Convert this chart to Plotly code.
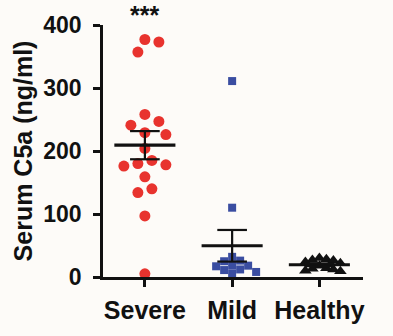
import numpy as np
import plotly.graph_objects as go

# Serum C5a concentrations (ng/ml) per patient group
groups = ["Severe", "Mild", "Healthy"]
severe = [377, 373, 357, 258, 247, 241, 229, 226, 204, 185, 180, 178, 176, 159, 140, 134, 97, 5]
mild = [311, 110, 32, 26, 25, 19, 18, 17, 12, 11, 8, 6]
healthy = [30, 28, 27, 26, 24, 22, 18, 14, 13, 12, 10, 9]
y_ticks = [0, 100, 200, 300, 400]
significance = "***"

# figure geometry
W, H = 393, 336
M = dict(l=103, r=30, t=25, b=49)
X_RANGE = [-0.48, 2.5]
Y_RANGE = [0, 400]
px_per_x = (W - M["l"] - M["r"]) / (X_RANGE[1] - X_RANGE[0])
px_per_y = (H - M["t"] - M["b"]) / (Y_RANGE[1] - Y_RANGE[0])

FONT = "Liberation Sans, Arial, sans-serif"
BG = "#fdfbf8"
INK = "#111111"


def swarm(values, gap):
    """Horizontal offsets (data units) keeping marker centres at least `gap` px apart."""
    placed, offs = [], []
    step = gap * 0.5
    for v in values:
        yp = v * px_per_y
        k = 0
        while True:
            cand = [0.0] if k == 0 else [k * step, -k * step]
            hit = None
            for c in cand:
                if all((c - px) ** 2 + (yp - py) ** 2 >= gap ** 2 for px, py in placed):
                    hit = c
                    break
            if hit is not None:
                placed.append((hit, yp))
                offs.append(hit / px_per_x)
                break
            k += 1
    return offs


series = [
    (severe, dict(symbol="circle", size=11, color="#e8332e"), 14),
    (mild, dict(symbol="square", size=8, color="#3a4da1"), 8),
    (healthy, dict(symbol="triangle-up", size=11, color=INK), 7),
]

fig = go.Figure()
MEAN_HW, CAP_HW = 0.35, 0.17

for i, (vals, marker, gap) in enumerate(series):
    offs = swarm(vals, gap)
    fig.add_trace(go.Scatter(
        x=[i + o for o in offs], y=vals, mode="markers",
        marker=dict(line=dict(width=0), **marker),
        cliponaxis=False, showlegend=False, hoverinfo="y",
    ))

for i, (vals, marker, gap) in enumerate(series):
    a = np.array(vals, dtype=float)
    mean = a.mean()
    sem = a.std(ddof=1) / np.sqrt(len(a))
    # mean bar
    fig.add_trace(go.Scatter(x=[i - MEAN_HW, i + MEAN_HW], y=[mean, mean], mode="lines",
                             line=dict(color=INK, width=3.2), showlegend=False,
                             hoverinfo="skip", cliponaxis=False))
    # SEM whisker with caps
    fig.add_trace(go.Scatter(
        x=[i, i, None, i - CAP_HW, i + CAP_HW, None, i - CAP_HW, i + CAP_HW],
        y=[mean - sem, mean + sem, None, mean + sem, mean + sem, None, mean - sem, mean - sem],
        mode="lines", line=dict(color=INK, width=2.2), showlegend=False,
        hoverinfo="skip", cliponaxis=False))

fig.add_annotation(x=0, y=1 + M["t"] / (H - M["t"] - M["b"]), xref="x", yref="paper",
                   yshift=2, text=f"<b>{significance}</b>", showarrow=False, yanchor="top",
                   font=dict(family=FONT, size=25, color=INK))

fig.update_layout(
    width=W, height=H, margin=dict(**M, pad=0),
    paper_bgcolor=BG, plot_bgcolor=BG,
    font=dict(family=FONT, color=INK),
    xaxis=dict(
        range=X_RANGE, tickmode="array", tickvals=list(range(len(groups))),
        ticktext=[f"<b>{g}</b>" for g in groups],
        showline=True, linecolor=INK, linewidth=2.5, ticks="outside", ticklen=7, tickwidth=2.5,
        tickcolor=INK, showgrid=False, zeroline=False, tickfont=dict(size=25),
        ticklabelstandoff=2,
    ),
    yaxis=dict(
        range=Y_RANGE, tickmode="array", tickvals=y_ticks, ticktext=[f"<b>{t}</b>" for t in y_ticks],
        showline=True, linecolor=INK, linewidth=2.5, ticks="outside", ticklen=7, tickwidth=2.5,
        tickcolor=INK, showgrid=False, zeroline=False, tickfont=dict(size=23),
        ticklabelstandoff=7,
        title=dict(text="<b>Serum C5a (ng/ml)</b>", font=dict(size=25), standoff=4),
    ),
)

fig.write_html("out.html")
